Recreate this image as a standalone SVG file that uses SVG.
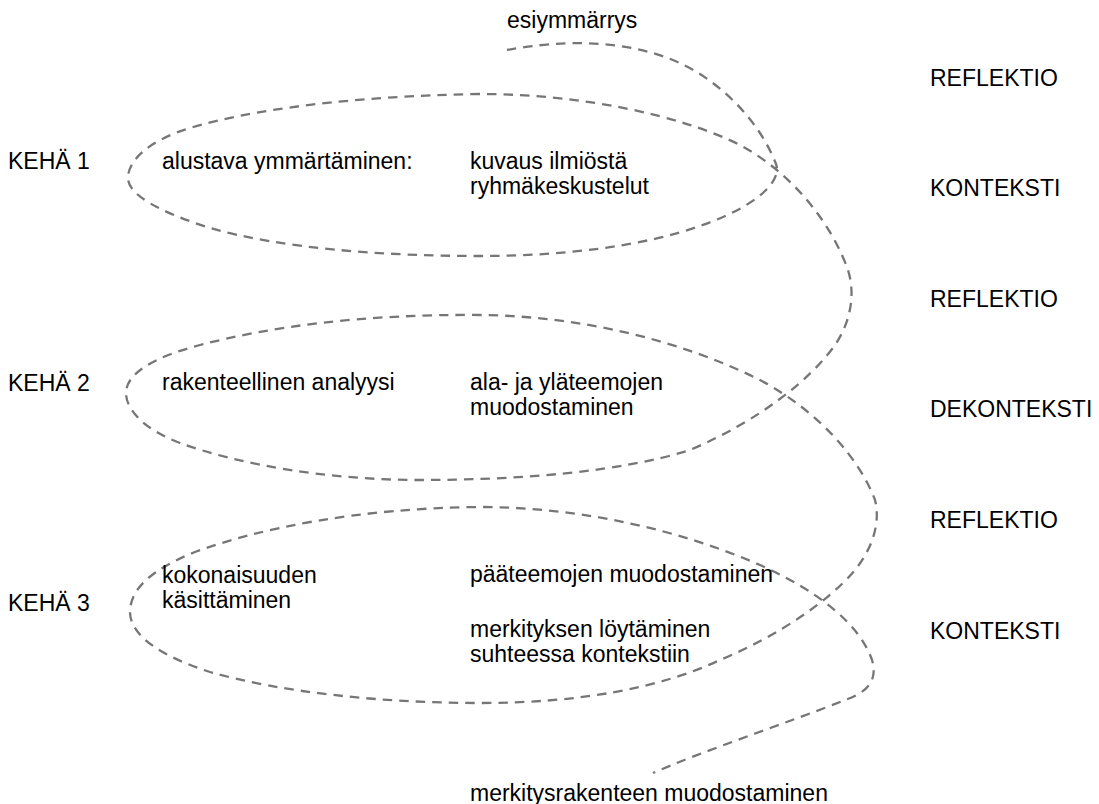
<svg xmlns="http://www.w3.org/2000/svg" width="1099" height="804" viewBox="0 0 1099 804">
<style>
text{font-family:"Liberation Sans",Arial,sans-serif;font-size:23px;fill:#000}
.spiral{fill:none;stroke:#767676;stroke-width:2.3;stroke-dasharray:9.5 7}
</style>
<rect width="1099" height="804" fill="#fff"/>
<g id="connectors">
<path class="spiral" d="M507,50 C560,40 640,36 700,74 C740,100 765,135 776,164 C782,180 760,205 700,226 C640,247 560,256 480,256 C380,256 280,248 210,228 C160,212 128,195 128,178 C128,160 150,140 190,128 C250,110 350,96 480,94 C580,94 680,115 740,145 C790,172 830,220 848,270 C855,292 852,320 835,345 C810,380 760,420 690,450 C620,472 520,480 420,480 C330,480 240,465 180,443 C145,430 126,410 126,393 C126,375 150,358 200,345 C270,327 360,314 480,315 C580,316 680,340 760,380 C820,412 860,460 875,500 C880,520 875,545 855,570 C830,600 780,635 720,660 C660,688 580,703 480,703 C380,703 280,692 210,672 C160,656 130,635 130,612 C130,590 150,570 195,552 C260,528 360,508 480,507 C580,507 680,530 760,565 C820,592 860,625 872,660 C878,680 868,692 845,700 C790,722 700,752 653,773"/>
</g>
<g id="start"><text x="507" y="28">esiymmärrys</text></g>
<g id="end"><text x="470" y="801">merkitysrakenteen muodostaminen</text></g>
<g id="kehä-1">
<text x="8" y="169">KEHÄ 1</text>
<text x="162" y="169">alustava ymmärtäminen:</text>
<text x="470" y="169">kuvaus ilmiöstä</text>
<text x="470" y="194">ryhmäkeskustelut</text>
</g>
<g id="kehä-2">
<text x="8" y="391">KEHÄ 2</text>
<text x="162" y="390">rakenteellinen analyysi</text>
<text x="470" y="390">ala- ja yläteemojen</text>
<text x="470" y="415">muodostaminen</text>
</g>
<g id="kehä-3">
<text x="8" y="611">KEHÄ 3</text>
<text x="162" y="583">kokonaisuuden</text>
<text x="162" y="608">käsittäminen</text>
<text x="470" y="582">pääteemojen muodostaminen</text>
<text x="470" y="637">merkityksen löytäminen</text>
<text x="470" y="662">suhteessa kontekstiin</text>
</g>
<g id="vaiheet">
<text x="930" y="86">REFLEKTIO</text>
<text x="930" y="196">KONTEKSTI</text>
<text x="930" y="307">REFLEKTIO</text>
<text x="930" y="417">DEKONTEKSTI</text>
<text x="930" y="528">REFLEKTIO</text>
<text x="930" y="639">KONTEKSTI</text>
</g>
</svg>
